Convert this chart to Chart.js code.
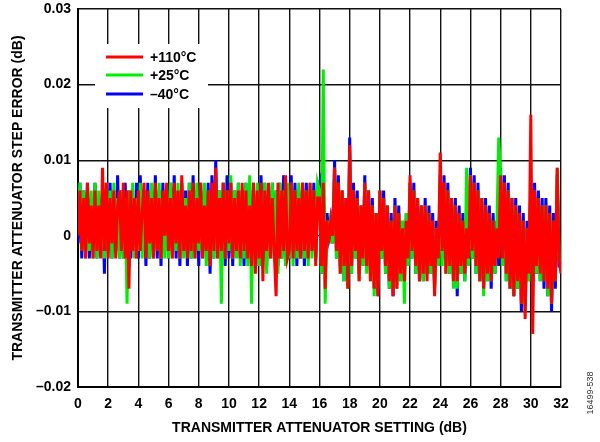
<!DOCTYPE html>
<html>
<head>
<meta charset="utf-8">
<script src="https://cdn.jsdelivr.net/npm/chart.js@4.4.1/dist/chart.umd.min.js"></script>
<style>
  html, body { margin: 0; padding: 0; background: #fff; }
  canvas { display: block; }
</style>
</head>
<body>
<canvas id="stepErrorChart" width="600" height="442"></canvas>
<script>
// attenuator setting (dB)
const settings = [
  0,0.125,0.25,0.375,0.5,0.625,0.75,0.875,
  1,1.125,1.25,1.375,1.5,1.625,1.75,1.875,
  2,2.125,2.25,2.375,2.5,2.625,2.75,2.875,
  3,3.125,3.25,3.375,3.5,3.625,3.75,3.875,
  4,4.125,4.25,4.375,4.5,4.625,4.75,4.875,
  5,5.125,5.25,5.375,5.5,5.625,5.75,5.875,
  6,6.125,6.25,6.375,6.5,6.625,6.75,6.875,
  7,7.125,7.25,7.375,7.5,7.625,7.75,7.875,
  8,8.125,8.25,8.375,8.5,8.625,8.75,8.875,
  9,9.125,9.25,9.375,9.5,9.625,9.75,9.875,
  10,10.125,10.25,10.375,10.5,10.625,10.75,10.875,
  11,11.125,11.25,11.375,11.5,11.625,11.75,11.875,
  12,12.125,12.25,12.375,12.5,12.625,12.75,12.875,
  13,13.125,13.25,13.375,13.5,13.625,13.75,13.875,
  14,14.125,14.25,14.375,14.5,14.625,14.75,14.875,
  15,15.125,15.25,15.375,15.5,15.625,15.75,15.875,
  16,16.125,16.25,16.375,16.5,16.625,16.75,16.875,
  17,17.125,17.25,17.375,17.5,17.625,17.75,17.875,
  18,18.125,18.25,18.375,18.5,18.625,18.75,18.875,
  19,19.125,19.25,19.375,19.5,19.625,19.75,19.875,
  20,20.125,20.25,20.375,20.5,20.625,20.75,20.875,
  21,21.125,21.25,21.375,21.5,21.625,21.75,21.875,
  22,22.125,22.25,22.375,22.5,22.625,22.75,22.875,
  23,23.125,23.25,23.375,23.5,23.625,23.75,23.875,
  24,24.125,24.25,24.375,24.5,24.625,24.75,24.875,
  25,25.125,25.25,25.375,25.5,25.625,25.75,25.875,
  26,26.125,26.25,26.375,26.5,26.625,26.75,26.875,
  27,27.125,27.25,27.375,27.5,27.625,27.75,27.875,
  28,28.125,28.25,28.375,28.5,28.625,28.75,28.875,
  29,29.125,29.25,29.375,29.5,29.625,29.75,29.875,
  30,30.125,30.25,30.375,30.5,30.625,30.75,30.875,
  31,31.125,31.25,31.375,31.5,31.625,31.75,31.875,
  32
];

// step error (dB) at +110°C
const hot = [
  0.000,0.006,-0.002,0.005,-0.003,0.007,-0.001,0.004,
  -0.003,0.006,-0.002,0.004,-0.003,0.009,-0.002,0.007,
  -0.003,0.005,-0.001,0.006,-0.003,0.004,0.006,-0.002,
  0.007,-0.003,0.006,-0.007,0.006,-0.002,0.005,-0.003,
  0.006,-0.002,0.003,0.007,-0.003,0.006,-0.001,0.005,
  -0.003,0.007,-0.002,0.005,-0.003,0.006,0.000,0.007,
  -0.002,0.005,-0.003,0.007,-0.001,0.006,-0.003,0.008,
  -0.002,0.004,-0.003,0.006,-0.002,0.007,-0.003,0.005,
  -0.001,0.007,-0.003,0.004,-0.002,0.006,-0.004,0.007,
  -0.002,0.009,-0.003,0.005,-0.002,0.007,-0.003,0.006,
  -0.001,0.007,-0.003,0.005,-0.002,0.006,-0.003,0.007,
  -0.002,0.006,-0.003,0.004,-0.004,0.007,-0.005,0.006,
  -0.003,0.007,-0.006,0.006,-0.002,0.007,-0.003,0.005,
  -0.002,-0.008,0.007,-0.003,0.006,-0.002,0.008,-0.003,
  -0.002,0.007,-0.003,0.006,-0.002,0.005,-0.003,0.007,
  -0.002,0.006,-0.003,0.007,-0.002,0.006,-0.004,0.005,
  0.005,-0.004,0.007,-0.007,0.002,-0.001,0.002,0.000,
  0.009,-0.002,0.007,-0.005,0.006,-0.004,0.005,-0.007,
  0.012,-0.004,0.006,-0.002,0.005,-0.006,0.004,-0.003,
  0.007,-0.004,0.006,-0.006,0.004,-0.007,0.003,-0.008,
  0.006,-0.002,0.005,-0.004,0.004,-0.006,0.002,-0.008,
  0.004,-0.007,0.003,-0.005,0.001,-0.006,0.002,-0.003,
  0.008,-0.002,0.006,-0.004,0.005,-0.006,0.004,-0.005,
  0.004,-0.006,0.003,-0.004,0.002,-0.008,0.001,-0.003,
  0.011,-0.002,0.007,-0.005,0.006,-0.004,0.005,-0.006,
  0.004,-0.006,0.003,-0.004,0.002,-0.005,0.001,-0.003,
  0.008,-0.002,0.007,-0.004,0.006,-0.006,0.005,-0.007,
  0.004,-0.005,0.003,-0.006,0.002,-0.004,0.001,-0.003,
  0.008,-0.003,0.007,-0.005,0.006,-0.007,0.005,-0.008,
  0.004,-0.006,0.003,-0.009,0.002,-0.011,0.001,-0.005,
  0.016,-0.013,0.006,-0.004,0.005,-0.005,0.004,-0.006,
  0.004,-0.007,0.003,-0.009,0.002,-0.006,0.009,-0.003,
  -0.005
];

// step error (dB) at +25°C
const room = [
  0.001,0.007,-0.002,0.006,-0.003,0.005,-0.002,0.006,
  -0.003,0.007,-0.003,0.006,-0.002,0.005,-0.003,0.007,
  -0.002,0.006,-0.003,0.007,-0.002,0.005,-0.003,0.006,
  -0.003,0.005,-0.009,0.006,-0.002,0.007,-0.003,0.005,
  -0.002,0.007,-0.003,0.006,-0.002,0.005,-0.003,0.007,
  -0.003,0.006,-0.002,0.007,-0.003,0.005,-0.003,0.006,
  -0.003,0.007,-0.003,0.006,-0.002,0.007,-0.003,0.006,
  -0.003,0.005,-0.002,0.007,-0.003,0.006,-0.003,0.007,
  -0.002,0.006,-0.003,0.007,-0.004,0.006,-0.003,0.005,
  -0.003,0.007,-0.003,0.006,-0.009,0.007,-0.003,0.006,
  -0.002,0.008,-0.003,0.006,-0.003,0.007,-0.004,0.006,
  -0.003,0.007,-0.004,0.008,-0.009,0.006,-0.003,0.007,
  -0.004,0.006,-0.003,0.007,-0.005,0.006,-0.003,0.007,
  -0.003,0.006,-0.005,0.007,-0.003,0.006,-0.004,0.007,
  -0.003,0.007,-0.004,0.006,-0.003,0.007,-0.003,0.006,
  -0.003,0.006,-0.004,0.007,-0.003,0.006,-0.003,0.007,
  0.006,-0.005,0.022,-0.009,0.002,-0.001,0.003,-0.001,
  0.009,-0.003,0.007,-0.005,0.006,-0.006,0.004,-0.007,
  0.011,-0.005,0.006,-0.003,0.005,-0.006,0.004,-0.004,
  0.007,-0.005,0.006,-0.006,0.004,-0.008,0.003,-0.007,
  0.006,-0.003,0.005,-0.005,0.004,-0.007,0.002,-0.007,
  0.004,-0.007,0.003,-0.006,0.002,-0.009,0.003,-0.004,
  0.007,-0.003,0.006,-0.005,0.005,-0.006,0.003,-0.006,
  0.004,-0.005,0.003,-0.005,0.002,-0.007,0.001,-0.004,
  0.008,-0.004,0.007,-0.005,0.006,-0.005,0.005,-0.007,
  0.004,-0.007,0.003,-0.005,0.002,-0.006,0.009,-0.004,
  0.008,-0.003,0.007,-0.005,0.006,-0.006,0.005,-0.008,
  0.004,-0.006,0.003,-0.006,0.002,-0.005,0.001,0.013,
  0.008,-0.004,0.007,-0.006,0.006,-0.007,0.004,-0.008,
  0.004,-0.007,0.003,-0.009,0.002,-0.010,0.001,-0.006,
  0.006,-0.005,0.006,-0.005,0.005,-0.006,0.004,-0.006,
  0.004,-0.008,0.003,-0.009,0.002,-0.006,0.009,-0.003,
  -0.004
];

// step error (dB) at -40°C
const cold = [
  -0.001,0.007,-0.003,0.006,-0.002,0.007,-0.003,0.005,
  -0.002,0.007,-0.003,0.005,-0.002,0.006,-0.005,0.006,
  -0.002,0.007,-0.003,0.005,-0.002,0.008,-0.003,0.006,
  -0.003,0.007,-0.002,0.006,-0.003,0.005,-0.002,0.007,
  -0.003,0.008,-0.002,0.006,-0.004,0.007,-0.003,0.006,
  -0.002,0.008,-0.003,0.006,-0.004,0.007,-0.002,0.006,
  -0.003,0.007,-0.002,0.008,-0.003,0.006,-0.004,0.007,
  -0.002,0.006,-0.004,0.007,-0.003,0.008,-0.002,0.006,
  -0.004,0.007,-0.002,0.006,-0.003,0.007,-0.005,0.008,
  -0.003,0.010,-0.002,0.006,-0.003,0.007,-0.004,0.008,
  -0.003,0.007,-0.004,0.006,-0.002,0.007,-0.003,0.006,
  -0.004,0.007,-0.003,0.006,-0.004,0.007,-0.003,0.005,
  -0.004,0.008,-0.003,0.007,-0.004,0.006,-0.002,0.007,
  -0.003,0.006,-0.004,0.007,-0.003,0.008,-0.004,0.006,
  -0.003,0.008,-0.002,0.007,-0.004,0.006,-0.003,0.007,
  -0.004,0.007,-0.003,0.006,-0.002,0.007,-0.003,0.006,
  0.007,-0.005,0.008,-0.004,0.003,0.000,0.002,-0.001,
  0.010,-0.003,0.008,-0.004,0.006,-0.006,0.005,-0.006,
  0.013,-0.005,0.007,-0.003,0.006,-0.005,0.004,-0.004,
  0.008,-0.004,0.006,-0.005,0.005,-0.007,0.003,-0.008,
  0.006,-0.003,0.006,-0.005,0.004,-0.007,0.003,-0.008,
  0.005,-0.006,0.004,-0.006,0.002,-0.005,0.003,-0.004,
  0.007,-0.003,0.007,-0.005,0.005,-0.006,0.004,-0.006,
  0.005,-0.005,0.004,-0.005,0.003,-0.007,0.002,-0.004,
  0.008,-0.003,0.008,-0.004,0.007,-0.005,0.005,-0.006,
  0.005,-0.008,0.004,-0.005,0.003,-0.006,0.002,-0.004,
  0.009,-0.003,0.008,-0.005,0.007,-0.006,0.005,-0.007,
  0.005,-0.006,0.004,-0.007,0.003,-0.005,0.002,-0.004,
  0.009,-0.004,0.008,-0.006,0.007,-0.007,0.005,-0.008,
  0.005,-0.007,0.004,-0.010,0.003,-0.009,0.002,-0.006,
  0.007,-0.005,0.007,-0.005,0.006,-0.006,0.005,-0.007,
  0.005,-0.008,0.004,-0.010,0.003,-0.007,0.008,-0.004,
  -0.004
];

const xTicks = [0, 2, 4, 6, 8, 10, 12, 14, 16, 18, 20, 22, 24, 26, 28, 30, 32];
const yTicks = [-0.02, -0.01, 0, 0.01, 0.02, 0.03];
const seriesNames = ['+110°C', '+25°C', '–40°C'];
const seriesColors = ['#ff0000', '#00ee00', '#0000ff'];

const FONT = '"Liberation Sans", Arial, sans-serif';

function toPoints(values) {
    return values.map((v, i) => ({ x: settings[i], y: v }));
}

// legend box inside the plot, drawn over the grid
const boxLegend = {
    id: 'boxLegend',
    beforeDatasetsDraw(chart) {
        const ctx = chart.ctx;
        ctx.save();
        ctx.fillStyle = '#fff';
        ctx.fillRect(95, 44, 113, 64);
        ctx.font = 'bold 14px ' + FONT;
        ctx.textBaseline = 'middle';
        ctx.fillStyle = '#000';
        const rows = [57, 75, 94];
        rows.forEach((y, i) => {
            ctx.strokeStyle = seriesColors[i];
            ctx.lineWidth = 3;
            ctx.beginPath();
            ctx.moveTo(106, y);
            ctx.lineTo(143, y);
            ctx.stroke();
            ctx.fillText(seriesNames[i], 150, y + 1);
        });
        ctx.restore();
    },
    afterDraw(chart) {
        const ctx = chart.ctx;
        ctx.save();
        ctx.translate(591, 393);
        ctx.rotate(-Math.PI / 2);
        ctx.font = '9px ' + FONT;
        ctx.fillStyle = '#333';
        ctx.textAlign = 'center';
        ctx.textBaseline = 'middle';
        ctx.fillText('16499-538', 0, 0);
        ctx.restore();
    }
};

var ctx = document.getElementById('stepErrorChart').getContext('2d');
var myChart = new Chart(ctx, {
    type: 'line',
    data: {
        datasets: [
            { label: seriesNames[0], data: toPoints(hot), borderColor: seriesColors[0] },
            { label: seriesNames[1], data: toPoints(room), borderColor: seriesColors[1] },
            { label: seriesNames[2], data: toPoints(cold), borderColor: seriesColors[2] }
        ]
    },
    options: {
        responsive: false,
        animation: false,
        devicePixelRatio: 1,
        layout: { padding: { top: 9, right: 39, left: 0, bottom: 0 } },
        elements: {
            point: { radius: 0 },
            line: { borderWidth: 3, tension: 0 }
        },
        plugins: {
            legend: { display: false },
            tooltip: { enabled: false }
        },
        scales: {
            x: {
                type: 'linear',
                min: 0,
                max: 32,
                afterBuildTicks: s => { s.ticks = xTicks.map(v => ({ value: v })); },
                afterFit: s => { s.height = 55; },
                ticks: {
                    color: '#000',
                    font: { family: FONT, size: 14, weight: 'bold' },
                    padding: 9,
                    maxRotation: 0
                },
                grid: { color: '#111', lineWidth: 1.4, drawTicks: false },
                border: { color: '#000', width: 2 },
                title: {
                    display: true,
                    text: 'TRANSMITTER ATTENUATOR SETTING (dB)',
                    color: '#000',
                    font: { family: FONT, size: 14, weight: 'bold' },
                    padding: { top: 0, bottom: 5 }
                }
            },
            y: {
                min: -0.02,
                max: 0.03,
                afterBuildTicks: s => { s.ticks = yTicks.map(v => ({ value: v })); },
                afterFit: s => { s.width = 78; s.paddingTop = 0; s.paddingBottom = 0; },
                ticks: {
                    color: '#000',
                    font: { family: FONT, size: 14, weight: 'bold' },
                    padding: 7,
                    callback: function (v) {
                        var r = Math.round(v * 100) / 100;
                        if (r === 0) return '0';
                        return (r < 0 ? '–' : '') + Math.abs(r).toFixed(2);
                    }
                },
                grid: { color: '#111', lineWidth: 1.4, drawTicks: false },
                border: { color: '#000', width: 2 },
                title: {
                    display: true,
                    text: 'TRANSMITTER ATTENUATOR STEP ERROR (dB)',
                    color: '#000',
                    font: { family: FONT, size: 14, weight: 'bold' },
                    padding: { top: 10, bottom: 0 }
                }
            }
        }
    },
    plugins: [boxLegend]
});
</script>
</body>
</html>
